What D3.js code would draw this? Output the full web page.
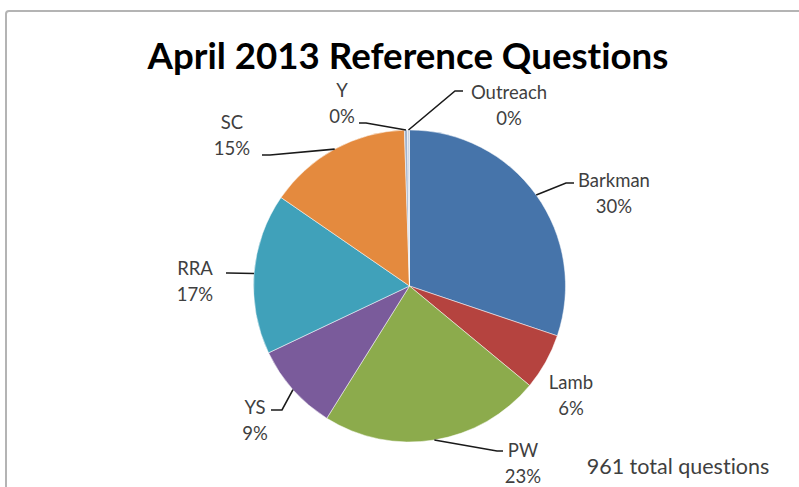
<!DOCTYPE html>
<html>
<head>
<meta charset="utf-8">
<script src="https://cdn.jsdelivr.net/npm/d3@7/dist/d3.min.js"></script>
<style>
  html, body { margin: 0; padding: 0; background: #fff; }
  svg { display: block; }
  text { font-variant-ligatures: none; }
</style>
</head>
<body>
<svg id="chart" width="799" height="487"></svg>
<script>
// ---- data ----
const categories = ["Barkman", "Lamb", "PW", "YS", "RRA", "SC", "Y", "Outreach"];
const counts     = [290, 56, 220, 87, 160, 143, 3, 2];
const percentLabels = ["30%", "6%", "23%", "9%", "17%", "15%", "0%", "0%"];
const totalNote = "961 total questions";
const titleText = "April 2013 Reference Questions";

// ---- style / layout ----
const colors = ["#4674aa", "#b5433f", "#8cab4c", "#7a5b9b", "#40a1ba", "#e48a3e", "#a3b3cc", "#c9d3e3"];
// label layout: text centre (x, y of first line), leader elbow & end (null = no leader)
const labelLayout = [
  { x: 614, y: 187, elbow: [566, 183], end: [574, 183] },
  { x: 571, y: 389, elbow: null, end: null },
  { x: 523, y: 457, elbow: [497, 451], end: [503, 451] },
  { x: 255, y: 414, elbow: [282, 410], end: [271, 410] },
  { x: 195, y: 275, elbow: [228, 273], end: [226, 273] },
  { x: 232, y: 129, elbow: [270, 155], end: [262, 155] },
  { x: 342, y: 97,  elbow: [366, 123], end: [359, 123] },
  { x: 509, y: 99,  elbow: [455, 91],  end: [463, 91] }
];
const cx = 409.5, cy = 286, R = 156;

const svg = d3.select("#chart");

// frame
svg.append("rect")
  .attr("x", 6).attr("y", 11).attr("width", 900).attr("height", 600)
  .attr("rx", 3)
  .attr("fill", "none").attr("stroke", "#b4b4b4").attr("stroke-width", 2);

// title
const title = svg.append("text")
  .attr("x", 408).attr("y", 69)
  .attr("text-anchor", "middle")
  .attr("font-family", "Lato, 'Open Sans', sans-serif")
  .attr("font-weight", "bold")
  .attr("font-size", 32)
  .attr("fill", "#000")
  .text(titleText);
// fit title width to reference
const tw = title.node().getComputedTextLength();
title.attr("font-size", 32 * 521 / tw);

const data = categories.map((c, i) => ({ name: c, value: counts[i], pct: percentLabels[i], i }));

const pie = d3.pie().sort(null).value(d => d.value);
const arcs = pie(data);
const arc = d3.arc().innerRadius(0).outerRadius(R);

const g = svg.append("g").attr("transform", `translate(${cx},${cy})`);
g.selectAll("path.slice")
  .data(arcs)
  .enter().append("path")
  .attr("class", "slice")
  .attr("d", arc)
  .attr("fill", d => colors[d.data.i])
  .attr("stroke", "#fff")
  .attr("stroke-width", 0.5);

// leader lines
arcs.forEach(a => {
  const L = labelLayout[a.data.i];
  if (!L.elbow) return;
  const mid = (a.startAngle + a.endAngle) / 2;
  const sx = cx + R * Math.sin(mid), sy = cy - R * Math.cos(mid);
  svg.append("path")
    .attr("d", d3.line()([[sx, sy], L.elbow, L.end]))
    .attr("fill", "none")
    .attr("stroke", "#1a1a1a")
    .attr("stroke-width", 1.6);
});

// labels
arcs.forEach(a => {
  const L = labelLayout[a.data.i];
  const t = svg.append("text")
    .attr("text-anchor", "middle")
    .attr("font-family", "Lato, 'Open Sans', sans-serif")
    .attr("font-size", 18.5)
    .attr("fill", "#3f3f3f");
  t.append("tspan").attr("x", L.x).attr("y", L.y).text(a.data.name);
  t.append("tspan").attr("x", L.x).attr("y", L.y + 26).text(a.data.pct);
});

// total note
svg.append("text")
  .attr("x", 678).attr("y", 474)
  .attr("text-anchor", "middle")
  .attr("font-family", "Lato, 'Open Sans', sans-serif")
  .attr("font-size", 21.5)
  .attr("fill", "#3f3f3f")
  .text(totalNote);
</script>
</body>
</html>
